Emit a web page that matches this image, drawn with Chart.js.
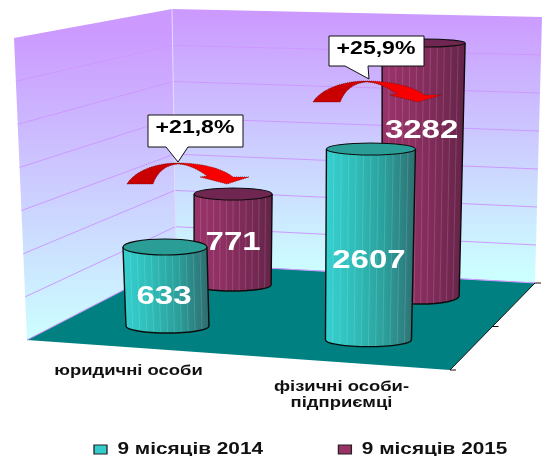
<!DOCTYPE html>
<html><head><meta charset="utf-8">
<style>html,body{margin:0;padding:0;background:#fff}canvas{display:block}</style>
<script src="https://cdn.jsdelivr.net/npm/chart.js@4"></script></head>
<body><canvas id="c" width="545" height="456"></canvas>
<script>
const categories = [['юридичні особи',''], ['','фізичні особи-','підприємці']];
const seriesNames = ['9 місяців 2014','9 місяців 2015'];
const values2014 = [633, 2607];
const values2015 = [771, 3282];
const changeLabels = ['+21,8%','+25,9%'];

/* 3D look, per series and category (pixels / styles, not data) */
const look = [
 {main:'#33cccc',stops:['#34d0d0','#2fbcb8','#2a9e9a','#2f6f72'],cap:'#2a9d97',
  rxTop:[42,44.5],ryTop:[8,6],rxBot:[41.5,43],dxBot:[2.5,-2.5],ryBot:[7,7],
  rowY0:326,rowX0:167.5,rowSlope:0.068,labelDy:[50,112]},
 {main:'#993366',stops:['#99336a','#8f3063','#7c2a57','#642448'],cap:'#6f2650',
  rxTop:[39,41.5],ryTop:[6,4],rxBot:[38.5,38.5],dxBot:[-0.5,-3],ryBot:[6,8],
  rowY0:285,rowX0:232.5,rowSlope:0.0588,labelDy:[49,88]}
];
const wallTopL=[14,38],wallBotL=[27,340],cornerTop=[172,9],cornerBot=[176,263],wallTopR=[542,17],wallBotR=[535,283],floorFront=[450,370];
const wallDivs=7;
const legendStretch=1.3,tickStretch=1.27;
const lerp=(a,b,t)=>[a[0]+(b[0]-a[0])*t,a[1]+(b[1]-a[1])*t];
function poly(c,pts){c.beginPath();pts.forEach((p,i)=>i?c.lineTo(p[0],p[1]):c.moveTo(p[0],p[1]));c.closePath();}
function wideText(c,t,x,y,size,stretch,color){
  c.save();c.translate(x,y);c.scale(stretch,1);c.font='bold '+size+'px "Liberation Sans"';
  c.textAlign='center';c.textBaseline='middle';c.fillStyle=color;c.fillText(t,0,0);c.restore();
}
const decor={id:'decor',
 beforeLayout(chart){
  const l=chart.legend;
  if(l&&!l.__wrapped){l.__wrapped=true;
   const f=l.fit;l.fit=function(){this.maxWidth=900;f.call(this);this.height=30;};
   const d=l.draw;l.draw=function(){const c=this.ctx;c.save();c.scale(legendStretch,1);d.call(this);c.restore();};
  }
 },
 afterLayout(chart){
  const l=chart.legend,pad=l.options.labels.padding;
  l.left=94/legendStretch-pad;l.right=900;l.top=441.4-pad;
  const s=chart.scales.x;
  if(s&&!s.__wrapped){s.__wrapped=true;
   const dl=s.drawLabels;
   s.drawLabels=function(ca){
    this.getLabelItems(ca).forEach(it=>{if(!it.__w){it.__w=true;it.options.translation[0]/=tickStretch;}});
    const c=this.ctx;c.save();c.scale(tickStretch,1);dl.call(this,ca);c.restore();
   };
  }
 },
 beforeDatasetsDraw(chart){
  const c=chart.ctx;c.save();
  const g1=c.createLinearGradient(0,30,0,340);g1.addColorStop(0,'#cc99ff');g1.addColorStop(1,'#ccffff');
  poly(c,[wallTopL,cornerTop,cornerBot,wallBotL]);c.fillStyle=g1;c.fill();
  const g2=c.createLinearGradient(0,12,0,275);g2.addColorStop(0,'#cc99ff');g2.addColorStop(1,'#ccffff');
  poly(c,[cornerTop,wallTopR,wallBotR,cornerBot]);c.fillStyle=g2;c.fill();
  c.strokeStyle='#cc99ff';c.lineWidth=1;
  for(let i=1;i<=wallDivs;i++){
   const t=i/wallDivs,a=lerp(wallTopL,wallBotL,t),b=lerp(cornerTop,cornerBot,t),d=lerp(wallTopR,wallBotR,t);
   c.beginPath();c.moveTo(a[0],a[1]);c.lineTo(b[0],b[1]);c.lineTo(d[0],d[1]);c.stroke();
  }
  c.strokeStyle='#e4d8ff';c.beginPath();c.moveTo(cornerTop[0],cornerTop[1]);c.lineTo(cornerBot[0],cornerBot[1]);c.stroke();
  poly(c,[wallBotL,cornerBot,wallBotR,floorFront]);c.fillStyle='#008080';c.fill();
  c.strokeStyle='#cc99ff';c.beginPath();c.moveTo(wallBotL[0],wallBotL[1]);c.lineTo(cornerBot[0],cornerBot[1]);c.lineTo(wallBotR[0],wallBotR[1]);c.stroke();
  c.strokeStyle='#111';c.beginPath();c.moveTo(floorFront[0],floorFront[1]);c.lineTo(wallBotR[0],wallBotR[1]);
  [0,0.5,1].forEach(t=>{const p=lerp(floorFront,wallBotR,t);c.moveTo(p[0],p[1]);c.lineTo(p[0]+6,p[1]);});
  c.stroke();c.restore();
 },
 afterDatasetDraw(chart,args){
  const c=chart.ctx,s=look[args.index];
  args.meta.data.forEach((el,i)=>{
   const x=el.x,y=el.y,rt=s.rxTop[i],ryt=s.ryTop[i];
   const bx=x+s.dxBot[i],rb=s.rxBot[i],ryb=s.ryBot[i],by=s.rowY0+(bx-s.rowX0)*s.rowSlope;
   c.save();
   c.beginPath();c.moveTo(x-rt,y);c.lineTo(bx-rb,by);c.ellipse(bx,by,rb,ryb,0,Math.PI,0,true);c.lineTo(x+rt,y);c.closePath();
   const g=c.createLinearGradient(x-rt,0,x+rt,0);
   s.stops.forEach((k,j)=>g.addColorStop(j/(s.stops.length-1),k));
   c.fillStyle=g;c.fill();
   c.save();c.clip();c.strokeStyle='rgba(255,255,255,0.14)';c.lineWidth=1;
   for(let k=1;k<12;k++){const u=k/12,xa=x-rt+2*rt*u,xb=bx-rb+2*rb*u;
    c.beginPath();c.moveTo(xa,y);c.lineTo(xb,by+ryb);c.stroke();}
   c.restore();
   c.strokeStyle='#0c0c0c';c.lineWidth=1.4;
   c.beginPath();c.moveTo(x-rt,y);c.lineTo(bx-rb,by);c.ellipse(bx,by,rb,ryb,0,Math.PI,0,true);c.lineTo(x+rt,y);c.stroke();
   c.beginPath();c.ellipse(x,y,rt,ryt,0,0,Math.PI*2);c.fillStyle=s.cap;c.fill();c.lineWidth=1.1;c.stroke();
   c.restore();
  });
 },
 afterDatasetsDraw(chart){
  const c=chart.ctx;
  chart.data.datasets.forEach((ds,d)=>{
   chart.getDatasetMeta(d).data.forEach((el,i)=>{
    const v=ds.data[i].y;
    wideText(c,String(v),el.x+(d===0?(i?-2:-1):(i?-2:0)),el.y+look[d].labelDy[i],26,1.27,'#fff');
   });
  });
  drawArrow(c,127,184,1);drawArrow(c,313,102,128/122);
  callout(c,148,115,95,32,[166,188],[178,162],changeLabels[0],195,128);
  callout(c,329,36,95,30,[345,368],[369,79],changeLabels[1],376,49);
 }
};
function drawArrow(c,x,y,k){
 const X=v=>x+v*k,Y=v=>y+v;
 c.save();
 c.beginPath();c.moveTo(X(0),Y(0));
 c.bezierCurveTo(X(8),Y(-13),X(28),Y(-21),X(51),Y(-21));
 c.bezierCurveTo(X(73),Y(-21),X(95),Y(-16),X(106),Y(-7));
 c.lineTo(X(122),Y(-7));c.lineTo(X(100),Y(0));c.lineTo(X(73),Y(-7));c.lineTo(X(80),Y(-8));
 c.bezierCurveTo(X(72),Y(-14),X(62),Y(-19.5),X(51),Y(-20));
 c.bezierCurveTo(X(38),Y(-19),X(30),Y(-11),X(26),Y(0));
 c.closePath();
 const g=c.createLinearGradient(X(0),0,X(122),0);
 g.addColorStop(0,'#c80000');g.addColorStop(0.4,'#cc0000');g.addColorStop(0.5,'#f00000');g.addColorStop(1,'#ff0000');
 c.fillStyle=g;c.fill();
 c.setLineDash([1,1]);c.strokeStyle='#6a1010';c.lineWidth=0.7;c.stroke();
 c.restore();
}
function callout(c,x,y,w,h,base,tip,text,tx,ty){
 c.save();c.beginPath();c.moveTo(x,y);c.lineTo(x+w,y);c.lineTo(x+w,y+h);c.lineTo(base[1],y+h);c.lineTo(tip[0],tip[1]);c.lineTo(base[0],y+h);c.lineTo(x,y+h);c.closePath();
 c.fillStyle='#fff';c.fill();c.strokeStyle='#111';c.lineWidth=1;c.stroke();c.restore();
 wideText(c,text,tx,ty,18,1.28,'#000');
}
const toPts=a=>a.map((v,i)=>({x:i,y:v}));
new Chart(document.getElementById('c'),{
 type:'bar',
 data:{labels:categories,datasets:[
  {label:seriesNames[0],data:toPts(values2014),backgroundColor:look[0].main,xAxisID:'xFront',yAxisID:'yFront',barThickness:70,grouped:false,clip:false},
  {label:seriesNames[1],data:toPts(values2015),backgroundColor:look[1].main,xAxisID:'xBack',yAxisID:'yBack',barThickness:66,grouped:false,clip:false}
 ]},
 plugins:[decor],
 options:{responsive:false,animation:false,
  layout:{padding:{left:22,right:97,top:0,bottom:0}},
  scales:{
   x:{type:'category',offset:true,grid:{display:false,drawTicks:false},border:{display:false},
      afterFit:s=>{s.height=66;},
      ticks:{padding:3,autoSkip:false,maxRotation:0,color:'#111',font:{family:'"Liberation Sans"',weight:'bold',size:14.5,lineHeight:16/14.5}}},
   xFront:{type:'linear',display:false,offset:false,min:-0.694,max:1.374},
   xBack:{type:'linear',display:false,offset:false,min:-1.108,max:1.128},
   yFront:{type:'linear',display:false,min:-1643,max:5608},
   yBack:{type:'linear',display:false,min:-1989,max:3997}
  },
  plugins:{tooltip:{enabled:false},
   legend:{position:'bottom',align:'start',
    labels:{boxWidth:10,boxHeight:9,padding:58,color:'#111',font:{family:'"Liberation Sans"',weight:'bold',size:16},
     generateLabels(ch){return Chart.defaults.plugins.legend.labels.generateLabels(ch).map(l=>({...l,lineWidth:1,strokeStyle:'#222'}));}}}
  }
 }
});
</script></body></html>
